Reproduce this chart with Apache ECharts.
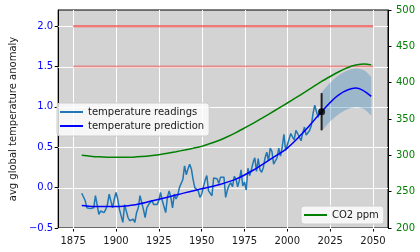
<!DOCTYPE html>
<html><head><meta charset="utf-8">
<script src="https://cdn.jsdelivr.net/npm/echarts@6/dist/echarts.min.js"></script>
<style>html,body{margin:0;padding:0;background:#fff}#c{width:420px;height:252px}</style>
</head><body><div id="c"></div>
<script>
// ---- data ----
const readStart = 1880;
const readVals = [
-0.07,-0.08,-0.16,-0.25,-0.23,-0.26,-0.24,-0.25,-0.10,-0.09,
-0.33,-0.29,-0.31,-0.31,-0.27,-0.21,-0.08,-0.08,-0.25,-0.14,
-0.06,-0.14,-0.27,-0.35,-0.43,-0.21,-0.23,-0.37,-0.41,-0.43,
-0.39,-0.43,-0.31,-0.25,-0.10,-0.10,-0.27,-0.37,-0.25,-0.21,
-0.21,-0.16,-0.21,-0.19,-0.21,-0.16,-0.06,-0.16,-0.14,-0.31,
-0.12,-0.04,-0.12,-0.25,-0.08,-0.14,-0.10,0.00,0.02,0.10,
0.27,0.16,0.23,0.29,0.23,0.10,0.00,0.00,-0.04,-0.12,
-0.08,0.01,0.09,0.15,-0.04,-0.06,-0.10,0.12,0.14,0.11,
0.05,0.13,0.11,0.13,-0.12,-0.03,0.03,0.06,0.01,0.14,
0.11,0.01,0.09,0.22,0.02,0.07,-0.03,0.24,0.15,0.22,
0.31,0.37,0.20,0.36,0.22,0.19,0.25,0.37,0.44,0.33,
0.49,0.45,0.29,0.31,0.37,0.49,0.39,0.50,0.66,0.46,
0.47,0.60,0.67,0.66,0.59,0.71,0.67,0.69,0.58,0.68,
0.75,0.65,0.68,0.71,0.77,0.92,1.02,0.94,0.87,0.97];

const predYears = [1880,1890,1900,1910,1920,1930,1940,1950,1960,1970,1980,1990,2000,2010,2020,2030,2040,2049];
const predVals  = [-0.22,-0.235,-0.235,-0.215,-0.17,-0.12,-0.065,-0.015,0.035,0.105,0.215,0.35,0.49,0.70,0.94,1.15,1.235,1.13];

const bandYears = [2020,2025,2030,2035,2040,2045,2049];
const bandLow   = [0.70,0.82,0.91,0.97,0.995,0.97,0.89];
const bandHigh  = [1.18,1.30,1.39,1.45,1.475,1.45,1.37];

const pointYear = 2020;
const pointVal = 0.94;
const errLow = 0.71;
const errHigh = 1.17;

const co2Years = [1880,1885,1890,1895,1900,1905,1910,1915,1920,1925,1930,1935,1940,1945,1950,1955,1960,1965,1970,1975,1980,1985,1990,1995,2000,2005,2010,2015,2020,2025,2030,2035,2040,2045,2049];
const co2Vals  = [300,298.8,297.9,297.4,297.2,297.2,297.5,298.3,299.4,300.9,302.9,305.0,307.3,309.7,312.3,316.3,320.5,325.5,331.3,337.6,344.0,350.8,357.8,364.9,372.0,379.3,386.7,394.2,401.7,408.5,415.0,420.5,424.3,425.8,424.5];

const hlineYears = [1875,2050];
const hlineVals = [2.0,1.5];

const xTicks = [1875,1900,1925,1950,1975,2000,2025,2050];
const yTicks = [-0.5,0.0,0.5,1.0,1.5,2.0];
const y2Ticks = [200,250,300,350,400,450,500];

// ---- build ----
const F = 'DejaVu Sans';
const readData = readVals.map((v,i)=>[readStart+i, v]);
const predData = predYears.map((y,i)=>[y, predVals[i]]);
const co2Data = co2Years.map((y,i)=>[y, co2Vals[i]]);
const fmt = v => (v<0?'\u2212':'') + Math.abs(v).toFixed(1);
const gridData = xTicks.map(x=>[0,x]).concat(yTicks.map(y=>[1,y]));

// Catmull-Rom densify in pixel space (rendering only)
function spline(pts){
  const out = [];
  for (let i=0;i<pts.length-1;i++){
    const p0 = pts[Math.max(i-1,0)], p1 = pts[i], p2 = pts[i+1], p3 = pts[Math.min(i+2,pts.length-1)];
    for (let t=0;t<1;t+=0.1){
      const t2=t*t, t3=t2*t;
      const f = (a,b,c,d)=>0.5*((2*b)+(-a+c)*t+(2*a-5*b+4*c-d)*t2+(-a+3*b-3*c+d)*t3);
      out.push([f(p0[0],p1[0],p2[0],p3[0]), f(p0[1],p1[1],p2[1],p3[1])]);
    }
  }
  out.push(pts[pts.length-1]);
  return out;
}

const chart = echarts.init(document.getElementById('c'), null, {renderer:'canvas'});
chart.setOption({
  animation:false,
  textStyle:{fontFamily:F},
  grid:{left:52,right:32,top:10,bottom:24,show:true,backgroundColor:'#d3d3d3',borderColor:'#000',borderWidth:1},
  legend:[{
    data:['temperature readings','temperature prediction'],
    left:57, top:103, orient:'vertical', itemWidth:23, itemHeight:2, itemGap:2,
    icon:'rect', padding:[3,5,4,3],
    backgroundColor:'rgba(255,255,255,0.8)', borderColor:'#cccccc', borderWidth:1, borderRadius:3,
    textStyle:{fontFamily:F,fontSize:10,color:'#1a1a1a',lineHeight:12},
    selectedMode:false
  },{
    data:['CO2 ppm'],
    left:301, top:206, itemWidth:23, itemHeight:2, icon:'rect', padding:[3,5,3,3],
    backgroundColor:'rgba(255,255,255,0.8)', borderColor:'#cccccc', borderWidth:1, borderRadius:3,
    textStyle:{fontFamily:F,fontSize:10,color:'#1a1a1a',lineHeight:12},
    selectedMode:false
  }],
  xAxis:{type:'value',min:1866.25,max:2058.75,
    axisLine:{show:true,onZero:false,lineStyle:{color:'#000',width:1}},
    axisTick:{show:true,length:3.5,lineStyle:{color:'#000'},customValues:xTicks},
    axisLabel:{customValues:xTicks,color:'#1a1a1a',fontFamily:F,fontSize:10,margin:8,formatter:v=>String(v)},
    splitLine:{show:false}},
  yAxis:[{type:'value',min:-0.5,max:2.2,position:'left',
    name:'avg global temperature anomaly',nameLocation:'middle',nameGap:39,
    nameTextStyle:{fontFamily:F,fontSize:10,color:'#1a1a1a'},
    axisLine:{show:true,onZero:false,lineStyle:{color:'#000',width:1}},
    axisTick:{show:true,length:3.5,lineStyle:{color:'#000'},customValues:yTicks},
    axisLabel:{customValues:yTicks,color:'#0000ff',fontFamily:F,fontSize:10,margin:5,formatter:fmt},
    splitLine:{show:false}},
   {type:'value',min:200,max:500,position:'right',
    axisLine:{show:true,onZero:false,lineStyle:{color:'#000',width:1}},
    axisTick:{show:true,length:3.5,lineStyle:{color:'#000'},customValues:y2Ticks},
    axisLabel:{customValues:y2Ticks,color:'#008000',fontFamily:F,fontSize:10,margin:8},
    splitLine:{show:false}}],
  series:[
    {type:'custom',name:'gridlines',data:gridData,silent:true,z:1,
      renderItem:function(params, api){
        const cs = params.coordSys;
        const kind = api.value(0), v = api.value(1);
        let shape;
        if (kind === 0) {
          const p = api.coord([v, -0.5]);
          const x = Math.round(p[0]) + 0.5;
          shape = {x1:x, y1:cs.y, x2:x, y2:cs.y+cs.height};
        } else {
          const p = api.coord([1900, v]);
          const y = Math.round(p[1]) + 0.5;
          shape = {x1:cs.x, y1:y, x2:cs.x+cs.width, y2:y};
        }
        return {type:'line', shape:shape, style:{stroke:'#ffffff', lineWidth:1}};
      }},
    {type:'line',name:'hl1',data:hlineYears.map(x=>[x,hlineVals[0]]),showSymbol:false,z:2,
      itemStyle:{color:'#ff0000'},lineStyle:{color:'#ff0000',opacity:0.55,width:2},silent:true},
    {type:'line',name:'hl2',data:hlineYears.map(x=>[x,hlineVals[1]]),showSymbol:false,z:2,
      itemStyle:{color:'#ff0000'},lineStyle:{color:'#ff0000',opacity:0.35,width:2},silent:true},
    {type:'custom',name:'band',data:[[0]],silent:true,z:3,
      renderItem:function(params, api){
        const up = spline(bandYears.map((y,i)=>api.coord([y, bandHigh[i]])));
        const lo = spline(bandYears.map((y,i)=>api.coord([y, bandLow[i]])));
        const pts = up.concat(lo.reverse());
        return {type:'polygon', shape:{points:pts}, style:{fill:'rgba(31,119,180,0.3)', stroke:null}};
      }},
    {type:'line',name:'temperature readings',data:readData,showSymbol:false,z:3,
      itemStyle:{color:'#1f77b4'},lineStyle:{color:'#1f77b4',width:1.5}},
    {type:'line',name:'temperature prediction',data:predData,showSymbol:false,smooth:0.35,z:4,
      itemStyle:{color:'#0000ff'},lineStyle:{color:'#0000ff',width:1.5}},
    {type:'line',name:'CO2 ppm',yAxisIndex:1,data:co2Data,showSymbol:false,smooth:0.3,z:4,
      itemStyle:{color:'#008000'},lineStyle:{color:'#008000',width:1.5}},
    {type:'line',name:'err',data:[[pointYear,errLow],[pointYear,errHigh]],showSymbol:false,z:6,
      itemStyle:{color:'#222'},lineStyle:{color:'#222',width:2},silent:true},
    {type:'scatter',name:'pt',data:[[pointYear,pointVal]],symbolSize:7,z:7,
      itemStyle:{color:'#000'},silent:true}
  ]
});
</script></body></html>
